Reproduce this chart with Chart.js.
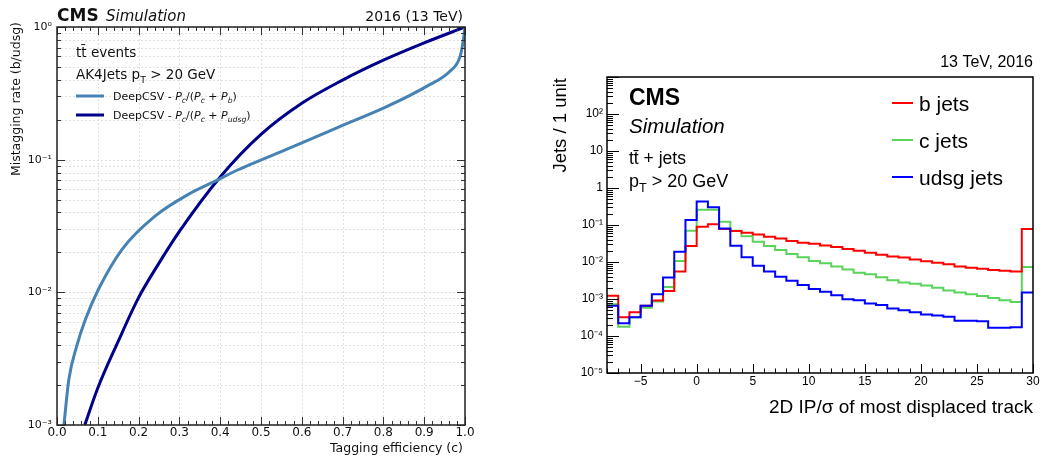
<!DOCTYPE html>
<html>
<head>
<meta charset="utf-8">
<script src="https://cdn.jsdelivr.net/npm/chart.js@4.4.1/dist/chart.umd.min.js"></script>
<style>
    body { margin: 0; background: #fff; }
    #roc { position: absolute; left: 0; top: 0; }
    #ip { position: absolute; left: 540px; top: 0; }
</style>
</head>
<body>
<canvas id="roc" width="480" height="459"></canvas>
<canvas id="ip" width="503" height="459"></canvas>
<script>
// ---- left panel: c-tagging ROC curves ----
var effCvsB = [0.017, 0.029, 0.049, 0.070, 0.102, 0.160, 0.241, 0.323, 0.388, 0.441, 0.486, 0.564, 0.686, 0.808, 0.906, 0.963, 0.988, 0.996, 1.0];
var mistagCvsB = [0.001, 0.0022, 0.004, 0.0063, 0.0106, 0.0212, 0.0377, 0.055, 0.069, 0.0832, 0.0955, 0.120, 0.174, 0.251, 0.357, 0.464, 0.60, 0.80, 1.0];

var effCvsL = [0.068, 0.10, 0.15, 0.20, 0.25, 0.30, 0.40, 0.50, 0.60, 0.70, 0.80, 0.90, 1.0];
var mistagCvsL = [0.001, 0.0019, 0.00427, 0.00912, 0.0166, 0.0288, 0.0741, 0.155, 0.266, 0.398, 0.562, 0.759, 1.0];

var rocXTicks = [0, 0.1, 0.2, 0.3, 0.4, 0.5, 0.6, 0.7, 0.8, 0.9, 1.0];
var rocYTicks = [0.001, 0.01, 0.1, 1];
var rocYLabels = ['10\u207B\u00B3', '10\u207B\u00B2', '10\u207B\u00B9', '10\u2070'];

// ---- right panel: 2D IP significance ----
var ipEdges = [-8, -7, -6, -5, -4, -3, -2, -1, 0, 1, 2, 3, 4, 5, 6, 7, 8, 9, 10, 11, 12, 13, 14, 15, 16, 17, 18, 19, 20, 21, 22, 23, 24, 25, 26, 27, 28, 29, 30];
var bJets = [0.00123, 0.00032, 0.00044, 0.00066, 0.00091, 0.00165, 0.0055, 0.027,
    0.089, 0.105, 0.078, 0.069, 0.062, 0.055, 0.048, 0.043, 0.037, 0.033,
    0.031, 0.028, 0.0254, 0.0224, 0.020, 0.0178, 0.0158, 0.0141, 0.0132, 0.0117, 0.0105, 0.0095, 0.0087, 0.0076, 0.0070, 0.0066, 0.0061, 0.0058, 0.0055,
    0.078];
var cJets = [0.00072, 0.000178, 0.00032, 0.00058, 0.00085, 0.0021, 0.0107, 0.07,
    0.26, 0.26, 0.123, 0.07, 0.05, 0.035, 0.027, 0.021, 0.0165, 0.0134,
    0.0107, 0.0092, 0.0075, 0.0063, 0.0051, 0.0047, 0.0039, 0.0032, 0.0028, 0.0026, 0.0023, 0.0020, 0.0017, 0.0015, 0.00134, 0.0012, 0.00107, 0.00093, 0.00083,
    0.0073];
var udsgJets = [0.00066, 0.00022, 0.00032, 0.00066, 0.00135, 0.0038, 0.019, 0.137,
    0.43, 0.30, 0.081, 0.0276, 0.0134, 0.0079, 0.0055, 0.004, 0.0031, 0.0024,
    0.00186, 0.00158, 0.00126, 0.00098, 0.00093, 0.00076, 0.00069, 0.00055, 0.0005, 0.00044, 0.00038, 0.00036, 0.00033, 0.00026, 0.00026, 0.00025, 0.000167, 0.000167, 0.000173,
    0.0015];

var ipXTicks = [-5, 0, 5, 10, 15, 20, 25, 30];
var ipXLabels = ['\u22125', '0', '5', '10', '15', '20', '25', '30'];
var ipYTicks = [1e-5, 1e-4, 1e-3, 1e-2, 1e-1, 1, 10, 100, 1000];
var ipYLabels = ['10\u207B\u2075', '10\u207B\u2074', '10\u207B\u00B3', '10\u207B\u00B2', '10\u207B\u00B9', '1', '10', '10\u00B2', ''];


function pares(xs, ys) {
    return xs.map(function (v, i) { return { x: v, y: ys[i] }; });
}

// histogram -> step points at the left edges, plus closing point at the last edge
function degraus(edges, vals) {
    var pts = vals.map(function (v, i) { return { x: edges[i], y: v }; });
    pts.push({ x: edges[edges.length - 1], y: vals[vals.length - 1] });
    return pts;
}

function menoresLog(lo, hi) {
    var out = [];
    for (var d = lo; d < hi; d++) {
        for (var m = 2; m <= 9; m++) out.push(m * Math.pow(10, d));
    }
    return out;
}

function textoRico(ctx, x, y, partes, size, family, color) {
    var cx = x;
    ctx.fillStyle = color || '#111';
    ctx.textAlign = 'left';
    ctx.textBaseline = 'alphabetic';
    partes.forEach(function (p) {
        var fs = p.sub ? size * 0.7 : size;
        ctx.font = (p.i ? 'italic ' : '') + (p.b ? 'bold ' : '') + fs + 'px ' + family;
        ctx.fillText(p.t, cx, y + (p.sub ? size * 0.28 : 0));
        cx += ctx.measureText(p.t).width;
    });
}

var FONTE_L = '"DejaVu Sans"';
var FONTE_R = '"Liberation Sans", Arial';

var decoRoc = {
    id: 'decoRoc',
    beforeDatasetsDraw: function (chart) {
        var ctx = chart.ctx, a = chart.chartArea, x = chart.scales.x, y = chart.scales.y;
        ctx.save();
        ctx.strokeStyle = '#e0e0e0';
        ctx.lineWidth = 1;
        ctx.setLineDash([2, 2]);
        rocXTicks.forEach(function (v) {
            var px = Math.round(x.getPixelForValue(v)) + 0.5;
            ctx.beginPath(); ctx.moveTo(px, a.top); ctx.lineTo(px, a.bottom); ctx.stroke();
        });
        rocYTicks.concat(menoresLog(-3, 0)).forEach(function (v) {
            var py = Math.round(y.getPixelForValue(v)) + 0.5;
            ctx.beginPath(); ctx.moveTo(a.left, py); ctx.lineTo(a.right, py); ctx.stroke();
        });
        ctx.restore();
    },
    afterDatasetsDraw: function (chart) {
        var ctx = chart.ctx, a = chart.chartArea, x = chart.scales.x, y = chart.scales.y;
        ctx.save();
        ctx.strokeStyle = '#333';
        ctx.lineWidth = 1;
        for (var k = 0; k <= 50; k++) {
            var px = Math.round(x.getPixelForValue(k / 50)) + 0.5;
            var len = (k % 5 === 0) ? 8 : 4;
            ctx.beginPath();
            ctx.moveTo(px, a.bottom); ctx.lineTo(px, a.bottom - len);
            ctx.moveTo(px, a.top); ctx.lineTo(px, a.top + len);
            ctx.stroke();
        }
        rocYTicks.forEach(function (v) {
            var py = Math.round(y.getPixelForValue(v)) + 0.5;
            ctx.beginPath();
            ctx.moveTo(a.left, py); ctx.lineTo(a.left + 8, py);
            ctx.moveTo(a.right, py); ctx.lineTo(a.right - 8, py);
            ctx.stroke();
        });
        menoresLog(-3, 0).forEach(function (v) {
            var py = Math.round(y.getPixelForValue(v)) + 0.5;
            ctx.beginPath();
            ctx.moveTo(a.left, py); ctx.lineTo(a.left + 4, py);
            ctx.moveTo(a.right, py); ctx.lineTo(a.right - 4, py);
            ctx.stroke();
        });
        ctx.lineWidth = 1.5;
        ctx.strokeStyle = '#222';
        ctx.strokeRect(a.left, a.top, a.right - a.left, a.bottom - a.top);

        // titulos
        textoRico(ctx, 57, 21, [{ t: 'CMS', b: 1 }], 17, FONTE_L);
        textoRico(ctx, 106, 21, [{ t: 'Simulation', i: 1 }], 15, FONTE_L);
        ctx.textAlign = 'right';
        ctx.font = '14px ' + FONTE_L;
        ctx.fillText('2016 (13 TeV)', 463, 21);
        ctx.font = '12.5px ' + FONTE_L;
        ctx.fillText('Tagging efficiency (c)', 463, 452);

        ctx.save();
        ctx.translate(20, 22);
        ctx.rotate(-Math.PI / 2);
        ctx.textAlign = 'right';
        ctx.font = '12.5px ' + FONTE_L;
        ctx.fillText('Mistagging rate (b/udsg)', 0, 0);
        ctx.restore();

        textoRico(ctx, 76, 57, [{ t: 'tt\u0304 events' }], 13.5, FONTE_L);
        textoRico(ctx, 76, 79, [{ t: 'AK4Jets p' }, { t: 'T', sub: 1 }, { t: ' > 20 GeV' }], 13.5, FONTE_L);

        // legenda
        var leg = [
            { cor: '#4682b4', y: 96, partes: [{ t: 'DeepCSV - ' }, { t: 'P', i: 1 }, { t: 'c', i: 1, sub: 1 }, { t: '/(' }, { t: 'P', i: 1 }, { t: 'c', i: 1, sub: 1 }, { t: ' + ' }, { t: 'P', i: 1 }, { t: 'b', i: 1, sub: 1 }, { t: ')' }] },
            { cor: '#00008b', y: 115, partes: [{ t: 'DeepCSV - ' }, { t: 'P', i: 1 }, { t: 'c', i: 1, sub: 1 }, { t: '/(' }, { t: 'P', i: 1 }, { t: 'c', i: 1, sub: 1 }, { t: ' + ' }, { t: 'P', i: 1 }, { t: 'udsg', i: 1, sub: 1 }, { t: ')' }] }
        ];
        leg.forEach(function (l) {
            ctx.strokeStyle = l.cor;
            ctx.lineWidth = 3;
            ctx.beginPath(); ctx.moveTo(76, l.y); ctx.lineTo(104, l.y); ctx.stroke();
            textoRico(ctx, 113, l.y + 4, l.partes, 11, FONTE_L);
        });
        ctx.restore();
    }
};

var decoIp = {
    id: 'decoIp',
    afterDatasetsDraw: function (chart) {
        var ctx = chart.ctx, a = chart.chartArea, x = chart.scales.x, y = chart.scales.y;
        ctx.save();
        ctx.strokeStyle = '#000';
        ctx.lineWidth = 1;
        for (var k = -8; k <= 30; k++) {
            var px = Math.round(x.getPixelForValue(k)) + 0.5;
            var len = (k % 5 === 0) ? 9 : 4.5;
            ctx.beginPath(); ctx.moveTo(px, a.bottom); ctx.lineTo(px, a.bottom - len); ctx.stroke();
        }
        ipYTicks.forEach(function (v) {
            var py = Math.round(y.getPixelForValue(v)) + 0.5;
            ctx.beginPath(); ctx.moveTo(a.left, py); ctx.lineTo(a.left + 12, py); ctx.stroke();
        });
        menoresLog(-5, 3).forEach(function (v) {
            var py = Math.round(y.getPixelForValue(v)) + 0.5;
            ctx.beginPath(); ctx.moveTo(a.left, py); ctx.lineTo(a.left + 6, py); ctx.stroke();
        });
        ctx.lineWidth = 1.5;
        ctx.strokeRect(a.left, a.top, a.right - a.left, a.bottom - a.top);

        ctx.fillStyle = '#000';
        ctx.textAlign = 'right';
        ctx.font = '16px ' + FONTE_R;
        ctx.fillText('13 TeV, 2016', 493, 67);
        ctx.font = '19px ' + FONTE_R;
        ctx.fillText('2D IP/\u03C3 of most displaced track', 493, 413);

        ctx.save();
        ctx.translate(26, 78);
        ctx.rotate(-Math.PI / 2);
        ctx.textAlign = 'right';
        ctx.font = '18.5px ' + FONTE_R;
        ctx.fillText('Jets / 1 unit', 0, 0);
        ctx.restore();

        textoRico(ctx, 89, 105, [{ t: 'CMS', b: 1 }], 23, FONTE_R, '#000');
        textoRico(ctx, 89, 133, [{ t: 'Simulation', i: 1 }], 20.5, FONTE_R, '#000');
        textoRico(ctx, 89, 164, [{ t: 'tt\u0304 + jets' }], 17.5, FONTE_R, '#000');
        textoRico(ctx, 89, 187, [{ t: 'p' }, { t: 'T', sub: 1 }, { t: ' > 20 GeV' }], 18, FONTE_R, '#000');

        var leg = [['b jets', '#ff0000', 103], ['c jets', '#5ad35a', 140], ['udsg jets', '#0000ff', 177]];
        leg.forEach(function (l) {
            ctx.strokeStyle = l[1];
            ctx.lineWidth = 2;
            ctx.beginPath(); ctx.moveTo(352, l[2]); ctx.lineTo(373, l[2]); ctx.stroke();
            textoRico(ctx, 379, l[2] + 8, [{ t: l[0] }], 21, FONTE_R, '#000');
        });
        ctx.restore();
    }
};

new Chart(document.getElementById('roc'), {
    type: 'line',
    data: {
        datasets: [{
            label: 'DeepCSV - Pc/(Pc + Pb)',
            data: pares(effCvsB, mistagCvsB),
            borderColor: '#4682b4',
            borderWidth: 3,
            pointRadius: 0,
            cubicInterpolationMode: 'monotone'
        }, {
            label: 'DeepCSV - Pc/(Pc + Pudsg)',
            data: pares(effCvsL, mistagCvsL),
            borderColor: '#00008b',
            borderWidth: 3,
            pointRadius: 0,
            cubicInterpolationMode: 'monotone'
        }]
    },
    options: {
        responsive: false,
        animation: false,
        layout: { padding: { left: 0, right: 15, top: 27, bottom: 0 } },
        plugins: { legend: { display: false }, tooltip: { enabled: false } },
        scales: {
            x: {
                type: 'linear', min: 0, max: 1,
                afterBuildTicks: function (s) { s.ticks = rocXTicks.map(function (v) { return { value: v }; }); },
                afterFit: function (s) { s.height = 34; },
                grid: { display: false, drawTicks: false, tickLength: 0 },
                border: { display: false },
                ticks: {
                    callback: function (v) { return v.toFixed(1); },
                    padding: 1, maxRotation: 0, autoSkip: false,
                    color: '#111', font: { family: 'DejaVu Sans', size: 12 }
                }
            },
            y: {
                type: 'logarithmic', min: 0.001, max: 1,
                afterBuildTicks: function (s) { s.ticks = rocYTicks.map(function (v) { return { value: v }; }); },
                afterFit: function (s) { s.width = 57; },
                grid: { display: false, drawTicks: false, tickLength: 0 },
                border: { display: false },
                ticks: {
                    callback: function (v, i) { return rocYLabels[i]; },
                    padding: 5, autoSkip: false,
                    color: '#111', font: { family: 'DejaVu Sans', size: 11 }
                }
            }
        }
    },
    plugins: [decoRoc]
});

new Chart(document.getElementById('ip'), {
    type: 'line',
    data: {
        datasets: [{
            label: 'udsg jets',
            data: degraus(ipEdges, udsgJets),
            borderColor: '#0000ff',
            borderWidth: 2,
            pointRadius: 0,
            stepped: true
        }, {
            label: 'b jets',
            data: degraus(ipEdges, bJets),
            borderColor: '#ff0000',
            borderWidth: 2,
            pointRadius: 0,
            stepped: true
        }, {
            label: 'c jets',
            data: degraus(ipEdges, cJets),
            borderColor: '#5ad35a',
            borderWidth: 2,
            pointRadius: 0,
            stepped: true
        }]
    },
    options: {
        responsive: false,
        animation: false,
        layout: { padding: { left: 0, right: 10, top: 77, bottom: 0 } },
        plugins: { legend: { display: false }, tooltip: { enabled: false } },
        scales: {
            x: {
                type: 'linear', min: -8, max: 30,
                afterBuildTicks: function (s) { s.ticks = ipXTicks.map(function (v) { return { value: v }; }); },
                afterFit: function (s) { s.height = 86; },
                grid: { display: false, drawTicks: false, tickLength: 0 },
                border: { display: false },
                ticks: {
                    callback: function (v, i) { return ipXLabels[i]; },
                    padding: 1, maxRotation: 0, autoSkip: false,
                    color: '#000', font: { family: 'Liberation Sans', size: 12 }
                }
            },
            y: {
                type: 'logarithmic', min: 1e-5, max: 1000,
                afterBuildTicks: function (s) { s.ticks = ipYTicks.map(function (v) { return { value: v }; }); },
                afterFit: function (s) { s.width = 67; },
                grid: { display: false, drawTicks: false, tickLength: 0 },
                border: { display: false },
                ticks: {
                    callback: function (v, i) { return ipYLabels[i]; },
                    padding: 4, autoSkip: false,
                    color: '#000', font: { family: 'Liberation Sans', size: 12 }
                }
            }
        }
    },
    plugins: [decoIp]
});
</script>
</body>
</html>
